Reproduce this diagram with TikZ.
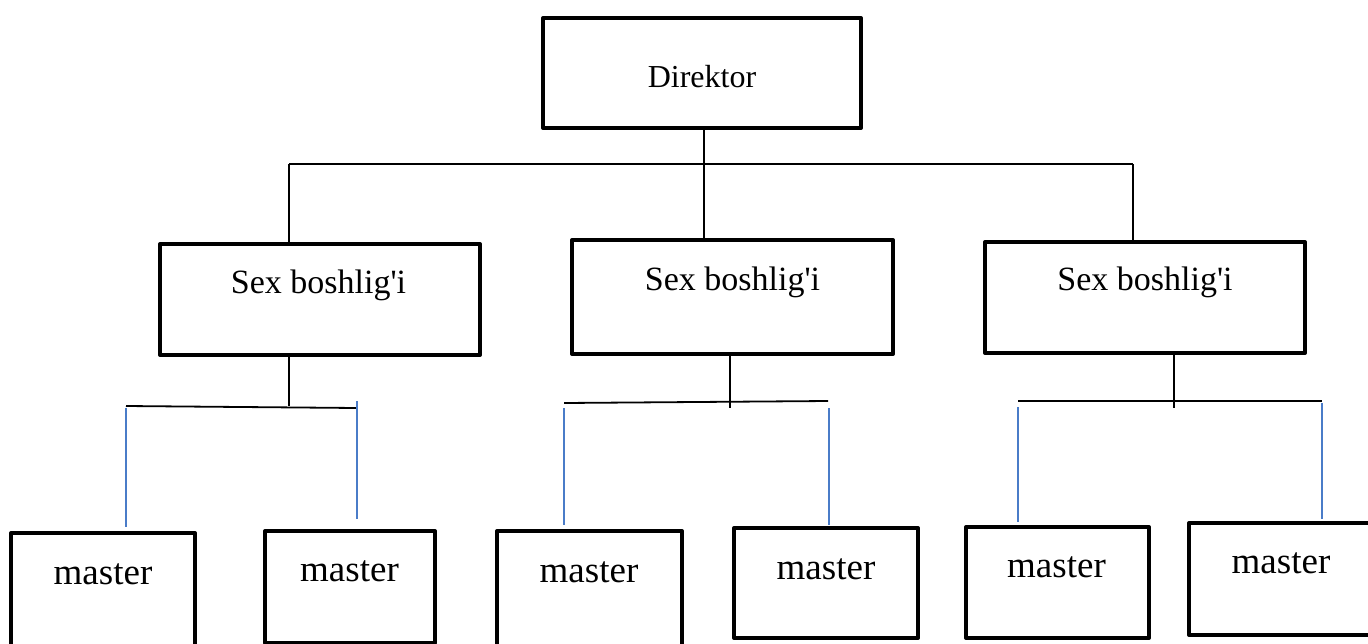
\documentclass[tikz,border=0pt]{standalone}
\usepackage{fontspec}
\setmainfont{Liberation Serif}[Ligatures=TeXOff]
\definecolor{linkblue}{HTML}{4A7CC8}
\begin{document}
\begin{tikzpicture}[x=1pt,y=-1pt,
  box/.style={draw, rectangle, line width=4pt, line join=round, inner sep=0pt, fill=white},
  wire/.style={line width=1.3pt},
  subbus/.style={line width=1.8pt},
  bluewire/.style={draw=linkblue, line width=1.4pt},
  lbl/.style={anchor=base, inner sep=0pt},
  dirfont/.style={font=\fontsize{32}{38}\selectfont},
  sexfont/.style={font=\fontsize{34}{40}\selectfont},
  masterfont/.style={font=\fontsize{37}{44}\selectfont},
]
\useasboundingbox (0,0) rectangle (1368,643);
\clip (0,0) rectangle (1368,643);
\fill[white] (0,0) rectangle (1368,643);

% junction points of the connector lines
\coordinate (busL) at (289,164);
\coordinate (busM) at (704,164);
\coordinate (busR) at (1133,164);
\coordinate (a1) at (289,406);
\coordinate (a2) at (730,408);
\coordinate (a3) at (1174,408);
\coordinate (b1L) at (126,406);
\coordinate (b1R) at (357,408);
\coordinate (b2L) at (564,403);
\coordinate (b2R) at (828,401);
\coordinate (b3L) at (1018,401);
\coordinate (b3R) at (1322,401);
\coordinate (u1) at (126,408);
\coordinate (u2) at (357,401);
\coordinate (u3) at (564,408);
\coordinate (u4) at (829,408);
\coordinate (u5) at (1018,407);
\coordinate (u6) at (1322,403);

% boxes
\node[box, minimum width=318, minimum height=110] (dir) at (702,73) {};
\node[box, minimum width=320, minimum height=111] (s1) at (320,299.5) {};
\node[box, minimum width=321, minimum height=114] (s2) at (732.5,297) {};
\node[box, minimum width=320, minimum height=111] (s3) at (1145,297.5) {};
\node[box, minimum width=184, minimum height=125] (m1) at (103,595.5) {};
\node[box, minimum width=170, minimum height=112] (m2) at (350,587) {};
\node[box, minimum width=185, minimum height=127] (m3) at (589.5,594.5) {};
\node[box, minimum width=184, minimum height=110] (m4) at (826,583) {};
\node[box, minimum width=183, minimum height=111] (m5) at (1057.5,582.5) {};
\node[box, minimum width=185, minimum height=112] (m6) at (1281.5,579) {};

% labels
\node[lbl, dirfont] (dirT) at (702,87) {Direktor};
\node[lbl, sexfont] (s1T) at (318.5,293) {Sex boshlig'i};
\node[lbl, sexfont] (s2T) at (732.5,290) {Sex boshlig'i};
\node[lbl, sexfont] (s3T) at (1145,290) {Sex boshlig'i};
\node[lbl, masterfont] (m1T) at (103,584) {master};
\node[lbl, masterfont] (m2T) at (349.5,581) {master};
\node[lbl, masterfont] (m3T) at (589,582) {master};
\node[lbl, masterfont] (m4T) at (826,579) {master};
\node[lbl, masterfont] (m5T) at (1056.5,577) {master};
\node[lbl, masterfont] (m6T) at (1281,573) {master};

% director to heads of shop
\draw[wire] (busL) -- (busR);
\draw[wire] (busM |- dir.south) -- (busM |- s2.north);
\draw[wire] (busL) -- (busL |- s1.north);
\draw[wire] (busR) -- (busR |- s3.north);

% heads of shop to their sub-buses
\draw[wire] (a1 |- s1.south) -- (a1);
\draw[wire] (a2 |- s2.south) -- (a2);
\draw[wire] (a3 |- s3.south) -- (a3);
\draw[subbus] (b1L) -- (b1R);
\draw[subbus] (b2L) -- (b2R);
\draw[subbus] (b3L) -- (b3R);

% drops toward the masters
\draw[bluewire] (u1) -- ([yshift=4pt]u1 |- m1.north);
\draw[bluewire] (u2) -- ([yshift=10pt]u2 |- m2.north);
\draw[bluewire] (u3) -- ([yshift=4pt]u3 |- m3.north);
\draw[bluewire] (u4) -- ([yshift=1pt]u4 |- m4.north);
\draw[bluewire] (u5) -- ([yshift=3pt]u5 |- m5.north);
\draw[bluewire] (u6) -- ([yshift=2pt]u6 |- m6.north);
\end{tikzpicture}
\end{document}
